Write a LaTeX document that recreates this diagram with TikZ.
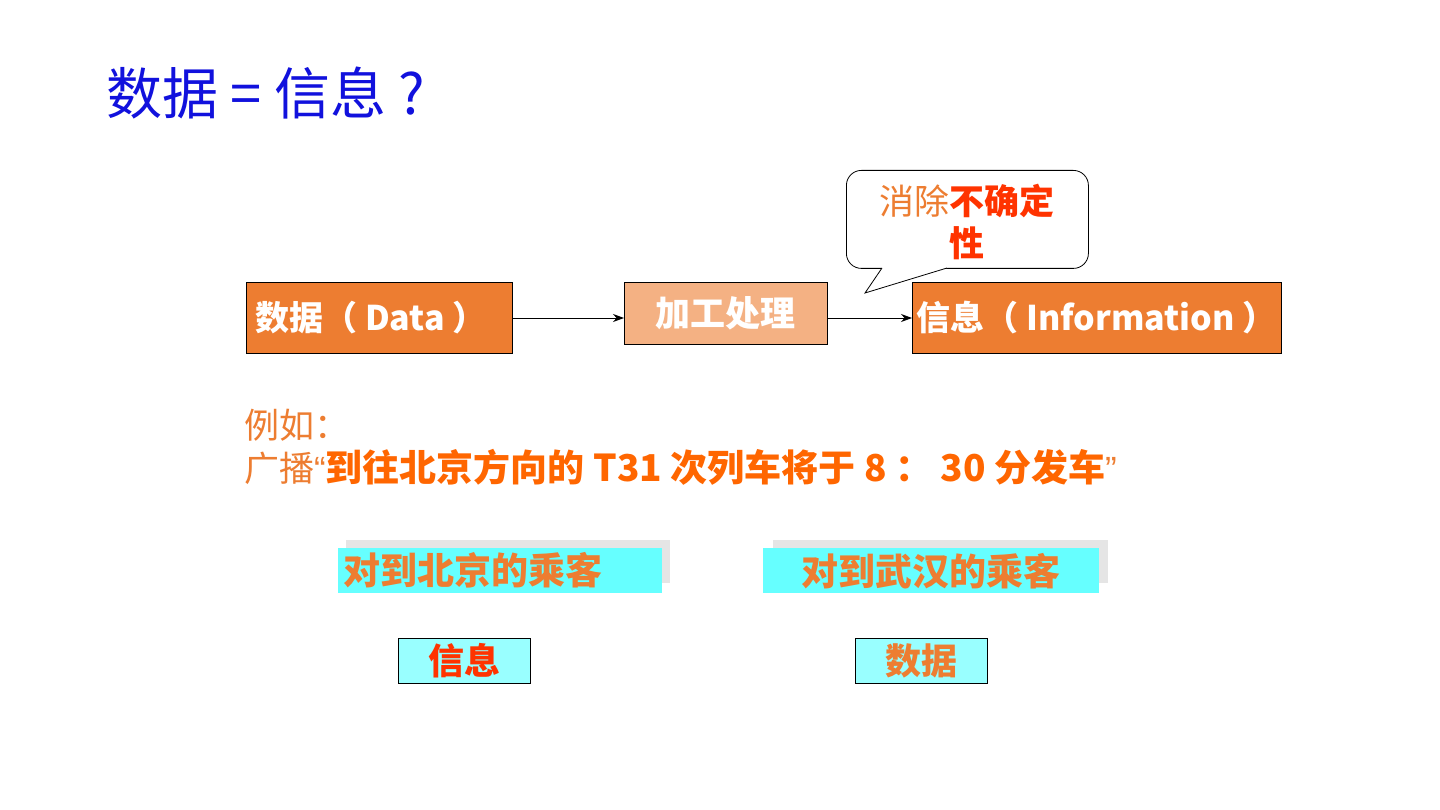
\documentclass[tikz,border=0pt]{standalone}
\usepackage{fontspec}
\setmainfont{Noto Sans CJK SC}
\newfontfamily\latq{Liberation Sans}
\usetikzlibrary{arrows.meta}
\definecolor{titleblue}{RGB}{17,17,221}
\definecolor{orng}{RGB}{237,125,49}
\definecolor{peach}{RGB}{244,177,131}
\definecolor{redd}{RGB}{255,51,0}
\definecolor{borng}{RGB}{255,102,0}
\definecolor{cyanbox}{RGB}{102,255,255}
\definecolor{lcyan}{RGB}{153,255,255}
\definecolor{shad}{RGB}{229,229,229}
\newcommand{\fs}[1]{\fontsize{#1}{#1}\selectfont}
\begin{document}
\begin{tikzpicture}[x=1pt,y=-1pt,
  obox/.style={draw=black, line width=0.8pt, fill=orng, text=white, inner sep=0pt, anchor=north west, font=\fs{34}\bfseries},
  arr/.style={-{Stealth[length=11pt,width=8pt]}, line width=0.8pt},
  cbox/.style={fill=cyanbox, inner sep=0pt, anchor=north west, text=orng, font=\fs{37}\bfseries},
  sbox/.style={fill=shad, inner sep=0pt, anchor=north west},
  smallbox/.style={draw=black, line width=0.8pt, fill=lcyan, inner sep=0pt, anchor=north west, minimum width=132, minimum height=45, font=\fs{36}\bfseries}
]
\useasboundingbox[fill=white] (0,0) rectangle (1440,810);
% title
\node[anchor=west, text=titleblue, font=\fs{56}, inner sep=0pt] (title) at (106,93) {数据 = 信息 ?};
% boxes
\node[obox, minimum width=266, minimum height=71] (data) at (246,282) {\makebox[248pt][l]{数据（ Data ）}};
\node[obox, fill=peach, minimum width=203, minimum height=62, font=\fs{35}\bfseries] (proc) at (624,282) {加工处理};
\node[obox, minimum width=369, minimum height=71] (info) at (912,282) {\makebox[361pt][l]{信息（ Information ）}};
\draw[arr] (data.east |- 0,318) coordinate (a1) -- (proc.west |- a1);
\draw[arr] (proc.east |- 0,318) coordinate (a2) -- (info.west |- a2);
% callout
\node[draw=black, line width=0.8pt, fill=white, rounded corners=15pt, minimum width=242, minimum height=98, anchor=north west, inner sep=0pt] (call) at (846,170) {};
\coordinate (tip) at (865,293);
\fill[white] (882,266) -- (948,266) -- (947,268) -- (tip) -- (882,268) -- cycle;
\draw[line width=0.8pt, line join=miter] (882,268) -- (tip) -- (947,268);
\node[align=center, inner sep=0pt, font=\fs{35}, text=redd] (calltext) at ([yshift=-3pt]call.center) {{\color{orng}消除}\textbf{不确定}\\[7pt]\textbf{性}};
% example text
\node[anchor=west, inner sep=0pt, text=orng, font=\fs{35}] (eg) at (244,425) {例如：};
\node[anchor=west, inner sep=0pt, text=orng, font=\fs{35}] (bc) at (244,467) {广播{\latq “}{\fs{37}\bfseries\color{borng}到往北京方向的 T31 次列车将于 8 ： 30 分发车}{\latq ”}};
% passenger boxes
\node[sbox, minimum width=324, minimum height=43] (s1) at (346,540) {};
\node[cbox, minimum width=324, minimum height=45, text width=314, inner xsep=5pt, align=left] (p1) at (338,548) {对到北京的乘客};
\node[sbox, minimum width=335, minimum height=43] (s2) at (773,540) {};
\node[cbox, minimum width=336, minimum height=45, align=center] (p2) at (763,548) {对到武汉的乘客};
\node[smallbox, text=redd] (r1) at (398,638) {信息};
\node[smallbox, text=orng] (r2) at (855,638) {数据};
\end{tikzpicture}
\end{document}
